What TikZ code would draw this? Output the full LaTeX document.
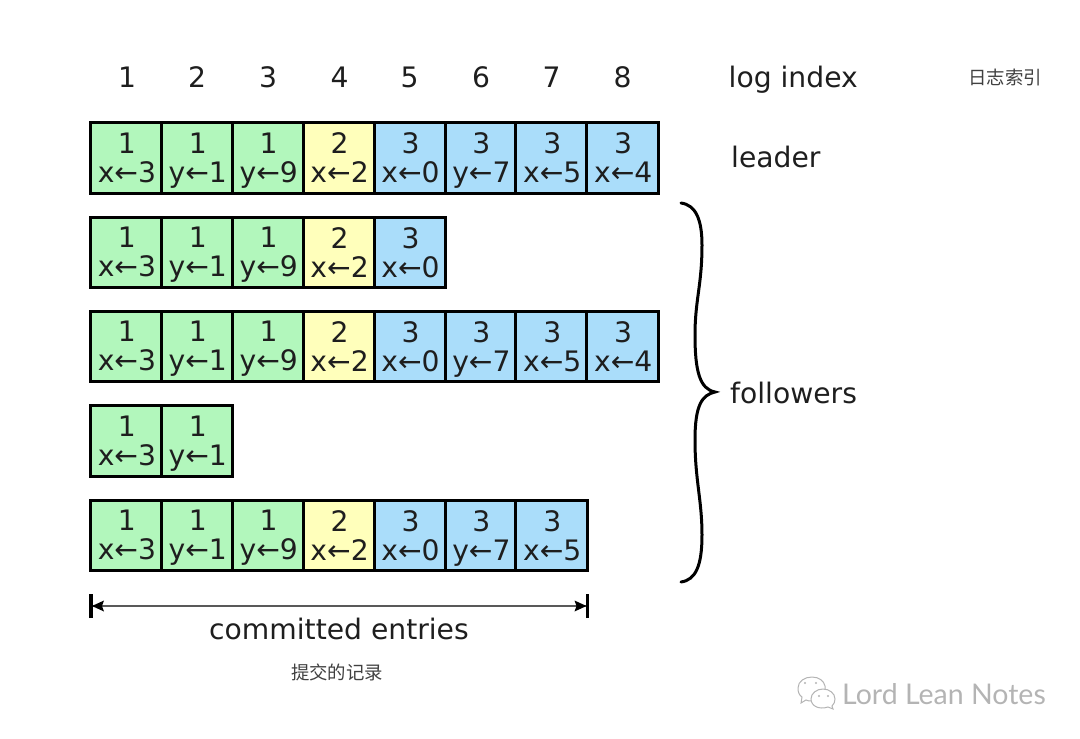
\documentclass[tikz,border=0pt]{standalone}
\usepackage{fontspec}
\setmainfont{DejaVu Sans}
\newfontfamily\cjk{Noto Sans CJK SC}
\newfontfamily\markfont{Lato}
\definecolor{cgreen}{HTML}{B2F7BC}
\definecolor{cyellow}{HTML}{FFFFBB}
\definecolor{cblue}{HTML}{AADDFA}
\definecolor{ink}{HTML}{1E1E1E}
\definecolor{markgray}{HTML}{B4B4B4}
\newcommand{\celltext}[2]{\hspace*{1.4pt}\parbox{70pt}{\vspace*{5pt}\centering\baselineskip=29pt #1\\\vphantom{y}#2\par}}
\tikzset{
  cellbox/.style={draw=black,line width=3pt,minimum width=70.9pt,minimum height=70.5pt,inner sep=0pt,outer sep=0pt,
    text=ink,font=\fontsize{28.2}{29}\selectfont},
  cellg/.style={cellbox,fill=cgreen},
  celly/.style={cellbox,fill=cyellow},
  cellb/.style={cellbox,fill=cblue},
  idx/.style={anchor=base,text=ink,font=\fontsize{28.2}{29}\selectfont,inner sep=0pt},
  lab/.style={anchor=base west,text=ink,font=\fontsize{28.2}{29}\selectfont,inner sep=0pt},
  note/.style={text=ink!85,font=\cjk\fontsize{18.4}{20}\selectfont,inner sep=0pt},
  curly/.style={draw=black,line width=3pt,line cap=round},
  endbar/.style={draw=black,line width=3.5pt},
  wmicon/.style={draw=markgray,line width=1pt,fill=white}
}
\begin{document}
\begin{tikzpicture}[x=1pt,y=-1pt]
\useasboundingbox (0,0) rectangle (1080,739);
% index header
\foreach \i/\x in {1/127,2/197,3/268,4/339.5,5/409.5,6/481,7/551.5,8/622.5}
  \node[idx] (h\i) at (\x,87) {\i};
\node[lab] (logindex) at (728.5,87) {log index};
\node[note] (ri) at (1005,77) {\cjk 日志索引};
% rows
\foreach \r/\y/\n in {1/158/8,2/252.5/5,3/346.5/8,4/441/2,5/535.5/7}{
  \foreach \c/\x/\st/\a/\b in {1/126.2/cellg/1/x←3,2/197.1/cellg/1/y←1,3/268/cellg/1/y←9,4/338.9/celly/2/x←2,5/409.8/cellb/3/x←0,6/480.7/cellb/3/y←7,7/551.6/cellb/3/x←5,8/622.5/cellb/3/x←4}{
    \ifnum\c>\n\relax\else
      \node[\st] (c\r-\c) at (\x,\y) {\celltext{\a}{\b}};
    \fi
  }
}
\node[lab] (leader) at (731,167.5) {leader};
\node[lab] (followers) at (730,403) {followers};
% brace
\coordinate (bt) at (681,203);
\coordinate (tip) at (715,392);
\coordinate (bb) at (681,582);
\draw[curly] (bt) .. controls (696,205) and (702,220) .. (702,245)
  .. controls (702,285) and (695,300) .. (695,335)
  .. controls (695,372) and (700,389) .. (tip)
  .. controls (702,395) and (695,405) .. (695,440)
  .. controls (695,480) and (702,500) .. (702,535)
  .. controls (702,565) and (696,580) .. (bb);
% committed range
\coordinate (la) at (91,606);
\coordinate (ra) at (587.5,606);
\draw[draw=black!65,line width=1.6pt] (la) -- (ra);
\draw[endbar] ([yshift=-12pt]la) -- ([yshift=12pt]la);
\draw[endbar] ([yshift=-12pt]ra) -- ([yshift=12pt]ra);
\fill[black] (92,606) -- (104,600.5) -- (102,606) -- (104,611.5) -- cycle;
\fill[black] (586.5,606) -- (574.5,600.5) -- (576.5,606) -- (574.5,611.5) -- cycle;
\node[idx] (ce) at (339,639) {committed entries};
\node[note] (cn) at (337,672) {\cjk 提交的记录};
% watermark
\path[wmicon] (798,688) .. controls (798,681) and (805,677) .. (812,677)
  .. controls (819,677) and (824,681) .. (825,686) -- (825,690) .. controls (818,690) and (810,693) .. (812,701)
  .. controls (809,701) and (808,701) .. (806,700) -- (801,703) -- (802,697) .. controls (799,695) and (798,692) .. (798,688) -- cycle;
\path[wmicon] (811,699) .. controls (811,693) and (817,689) .. (823,689)
  .. controls (829,689) and (835,693) .. (835,699) .. controls (835,702) and (834,704) .. (832,706)
  -- (833,709) -- (828,707) .. controls (819,710) and (811,706) .. (811,699) -- cycle;
\fill[markgray] (805,683) circle (1.2) (816,683) circle (1.2) (819,696) circle (1.1) (828,696) circle (1.1);
\node[anchor=base west,inner sep=0pt,text=markgray,font=\markfont\fontsize{28.5}{29}\selectfont] (wm) at (842,704) {Lord Lean Notes};
\end{tikzpicture}
\end{document}
